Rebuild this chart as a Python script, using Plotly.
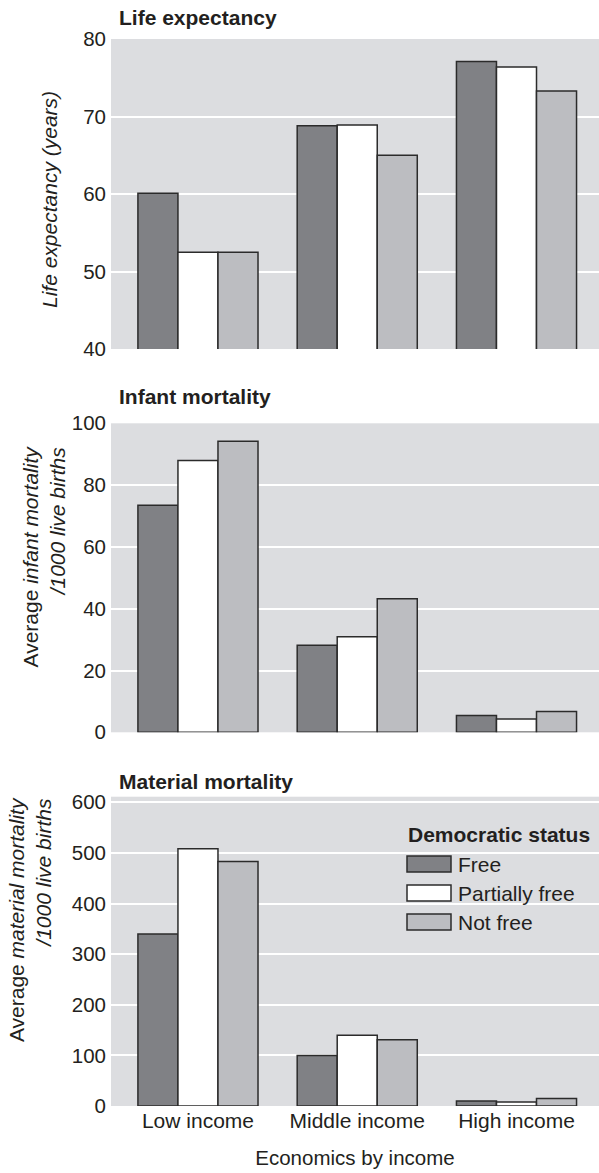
import plotly.graph_objects as go

# ---------------- data ----------------
categories = ["Low income", "Middle income", "High income"]
series_names = ["Free", "Partially free", "Not free"]
series_colors = ["#808185", "#ffffff", "#bcbdc1"]

life_free = [60.1, 68.8, 77.1]
life_partial = [52.5, 68.9, 76.4]
life_notfree = [52.5, 65.0, 73.3]

infant_free = [73.5, 28.2, 5.4]
infant_partial = [88.0, 30.9, 4.3]
infant_notfree = [94.2, 43.2, 6.7]

maternal_free = [340, 100, 10]
maternal_partial = [508, 140, 8]
maternal_notfree = [483, 131, 15]

panel_titles = ["Life expectancy", "Infant mortality", "Material mortality"]
y_titles = [
    "<i>Life expectancy (years)</i>",
    "Average <i>infant mortality</i><br><i>/1000 live births</i>",
    "Average <i>material mortality</i><br><i>/1000 live births</i>",
]
y_tickvals = [[40, 50, 60, 70, 80], [0, 20, 40, 60, 80, 100], [0, 100, 200, 300, 400, 500, 600]]
x_title = "Economics by income"
legend_title = "Democratic status"

# ---------------- layout helpers ----------------
W, H = 599, 1173
L, R, T, B = 111, 0, 39, 67
PW, PH = W - L - R, H - T - B


def xp(px):
    return (px - L) / PW


def yp(py):
    return (H - B - py) / PH


FONT = "Liberation Sans, Arial, Helvetica, sans-serif"
TXT = "#231f20"
BG = "#dcdde0"
OUT = "#2b2b2b"

panels = [
    ([life_free, life_partial, life_notfree], [40, 80], (349, 39)),
    ([infant_free, infant_partial, infant_notfree], [0, 100], (732.3, 423.3)),
    ([maternal_free, maternal_partial, maternal_notfree], [0, 611], (1106, 796.7)),
]

fig = go.Figure()
layout = dict(
    width=W,
    height=H,
    margin=dict(l=L, r=R, t=T, b=B),
    paper_bgcolor="white",
    plot_bgcolor=BG,
    barmode="group",
    bargap=0.246,
    bargroupgap=0,
    showlegend=False,
    font=dict(family=FONT, size=20, color=TXT),
)

for i, (vals, yrange, (ybot, ytop)) in enumerate(panels):
    n = "" if i == 0 else str(i + 1)
    for s, v in enumerate(vals):
        fig.add_trace(
            go.Bar(
                x=categories,
                y=v,
                name=series_names[s],
                marker=dict(color=series_colors[s], line=dict(color=OUT, width=1.5)),
                xaxis="x" + n,
                yaxis="y" + n,
                offsetgroup=str(s),
                showlegend=False,
            )
        )
    layout["xaxis" + n] = dict(
        domain=[0, 1],
        anchor="y" + n,
        range=[-0.546, 2.518],
        showgrid=False,
        zeroline=False,
        showline=False,
        ticks="",
        showticklabels=(i == 2),
        tickfont=dict(size=21, color=TXT, family=FONT),
        title=dict(text=x_title, font=dict(size=20.5, color=TXT, family=FONT), standoff=19) if i == 2 else None,
        fixedrange=True,
    )
    layout["yaxis" + n] = dict(
        domain=[yp(ybot), yp(ytop)],
        anchor="x" + n,
        range=yrange,
        tickvals=y_tickvals[i],
        showgrid=True,
        gridcolor="white",
        gridwidth=1.5,
        zeroline=False,
        showline=False,
        ticks="",
        ticklabelstandoff=4,
        tickfont=dict(size=20.5, color=TXT, family=FONT),
        fixedrange=True,
    )

annotations = []
# panel titles
for py, txt in zip([18, 396, 781], panel_titles):
    annotations.append(dict(
        text="<b>" + txt + "</b>", xref="paper", yref="paper",
        x=xp(117), y=yp(py), xanchor="left", yanchor="middle",
        showarrow=False, font=dict(size=21, color=TXT, family=FONT),
    ))
# y-axis titles
for (cx, cy), txt in zip([(50, 200), (43.5, 557), (29.6, 919.5)], y_titles):
    annotations.append(dict(
        text=txt, xref="paper", yref="paper",
        x=xp(cx), y=yp(cy), xanchor="center", yanchor="middle",
        textangle=-90, align="right", showarrow=False,
        font=dict(size=21, color=TXT, family=FONT),
    ))
# legend (drawn inside bottom panel)
annotations.append(dict(
    text="<b>" + legend_title + "</b>", xref="paper", yref="paper",
    x=xp(406), y=yp(834), xanchor="left", yanchor="middle",
    showarrow=False, font=dict(size=21, color=TXT, family=FONT),
))
shapes = []
for k, (nm, col) in enumerate(zip(series_names, series_colors)):
    top = 856 + 29 * k
    shapes.append(dict(
        type="rect", xref="paper", yref="paper",
        x0=xp(407), x1=xp(451), y0=yp(top + 16), y1=yp(top),
        fillcolor=col, line=dict(color=OUT, width=1.5),
    ))
    annotations.append(dict(
        text=nm, xref="paper", yref="paper",
        x=xp(456), y=yp(top + 8), xanchor="left", yanchor="middle",
        showarrow=False, font=dict(size=21, color=TXT, family=FONT),
    ))

layout["annotations"] = annotations
layout["shapes"] = shapes
fig.update_layout(**layout)

fig.write_html(
    "out.html",
    config={"displayModeBar": False},
    post_script="document.body.style.margin='0';document.body.style.overflow='hidden';",
)
